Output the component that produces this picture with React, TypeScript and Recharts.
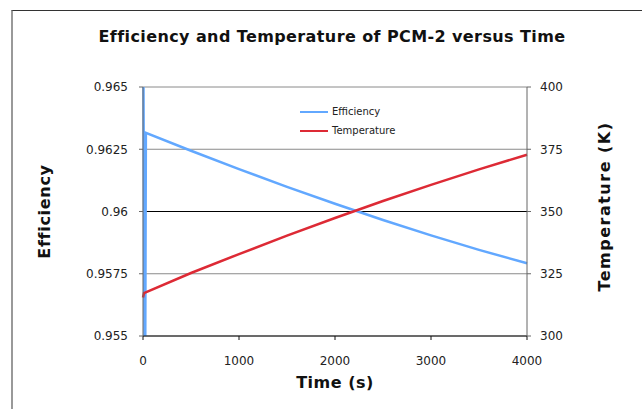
import React from 'react';
import {
  ComposedChart,
  Line,
  XAxis,
  YAxis,
  CartesianGrid,
  ReferenceLine,
} from 'recharts';

// time (s) and values
const effTime = [0, 20, 30, 500, 1000, 1500, 2000, 2500, 3000, 3500, 4000];
const effValues = [0.97, 0.95, 0.96316, 0.96244, 0.9617, 0.96099, 0.96031, 0.95966, 0.95904, 0.95846, 0.95792];

const tempTime = [0, 10, 500, 1000, 1500, 2000, 2500, 3000, 3500, 4000];
const tempValues = [315.5, 317.2, 325.3, 332.9, 340.3, 347.4, 354.2, 360.7, 366.9, 372.8];

const timeTicks = [0, 1000, 2000, 3000, 4000];
const effTicks = [0.955, 0.9575, 0.96, 0.9625, 0.965];
const tempTicks = [300, 325, 350, 375, 400];

const effData = effTime.map((t, i) => ({ time: t, efficiency: effValues[i] }));
const tempData = tempTime.map((t, i) => ({ time: t, temperature: tempValues[i] }));

const FONT = '"DejaVu Sans", Verdana, sans-serif';
const BLUE = '#62a8ff';
const RED = '#dd2a35';

const legendItems = [
  { label: 'Efficiency', color: BLUE },
  { label: 'Temperature', color: RED },
];

function LegendBox() {
  return (
    <div style={{ position: 'absolute', left: 300, top: 102, fontFamily: FONT, fontSize: 10, color: '#222' }}>
      {legendItems.map((it) => (
        <div key={it.label} style={{ display: 'flex', alignItems: 'center', height: 19 }}>
          <div style={{ width: 28, height: 2, background: it.color, marginRight: 4 }} />
          <span>{it.label}</span>
        </div>
      ))}
    </div>
  );
}

export default function App() {
  const tick = { fontFamily: FONT, fontSize: 12, fill: '#222' };
  const axisTitle = { fontFamily: FONT, fontSize: 16, fontWeight: 'bold', fill: '#111' };

  return (
    <div style={{ position: 'absolute', left: 0, top: 0, width: 642, height: 409, background: '#fff' }}>
      <div style={{ position: 'absolute', left: 11, top: 10, width: 631, height: 399, borderTop: '1.5px solid #333', borderLeft: '2px solid #999' }} />
      <div
        style={{
          position: 'absolute',
          left: 0,
          top: 27,
          width: 664,
          textAlign: 'center',
          fontFamily: FONT,
          fontSize: 16,
          letterSpacing: 0.4,
          fontWeight: 'bold',
          color: '#111',
        }}
      >
        Efficiency and Temperature of PCM-2 versus Time
      </div>
      <ComposedChart width={642} height={409} margin={{ top: 87, right: 0, bottom: 0, left: 0 }}>
        <CartesianGrid yAxisId="left" vertical={false} stroke="#8a8a8a" strokeWidth={1} />
        <XAxis
          dataKey="time"
          type="number"
          domain={[0, 4000]}
          ticks={timeTicks}
          height={73}
          tick={tick}
          tickSize={4}
          tickMargin={16}
          stroke="#111"
          allowDuplicatedCategory={false}
          label={{ value: 'Time (s)', position: 'center', dy: 10, style: { ...axisTitle, letterSpacing: 0.5 } }}
        />
        <YAxis
          yAxisId="left"
          orientation="left"
          domain={[0.955, 0.965]}
          ticks={effTicks}
          allowDataOverflow
          width={143}
          tick={tick}
          tickSize={4}
          tickMargin={11}
          stroke="#666"
          label={{ value: 'Efficiency', angle: -90, position: 'center', dx: -27, style: { ...axisTitle, letterSpacing: 0.7 } }}
        />
        <YAxis
          yAxisId="right"
          orientation="right"
          domain={[300, 400]}
          ticks={tempTicks}
          allowDataOverflow
          width={115}
          tick={tick}
          tickSize={4}
          tickMargin={9}
          stroke="#666"
          label={{ value: 'Temperature (K)', angle: -90, position: 'center', dx: 20, dy: -5, style: { ...axisTitle, letterSpacing: 1.5 } }}
        />
        <ReferenceLine yAxisId="left" y={0.96} stroke="#000" strokeWidth={1} />
        <Line
          yAxisId="left"
          data={effData}
          dataKey="efficiency"
          name="Efficiency"
          type="linear"
          stroke={BLUE}
          strokeWidth={2.5}
          dot={false}
          isAnimationActive={false}
        />
        <Line
          yAxisId="right"
          data={tempData}
          dataKey="temperature"
          name="Temperature"
          type="linear"
          stroke={RED}
          strokeWidth={2.5}
          dot={false}
          isAnimationActive={false}
        />
      </ComposedChart>
      <LegendBox />
    </div>
  );
}
